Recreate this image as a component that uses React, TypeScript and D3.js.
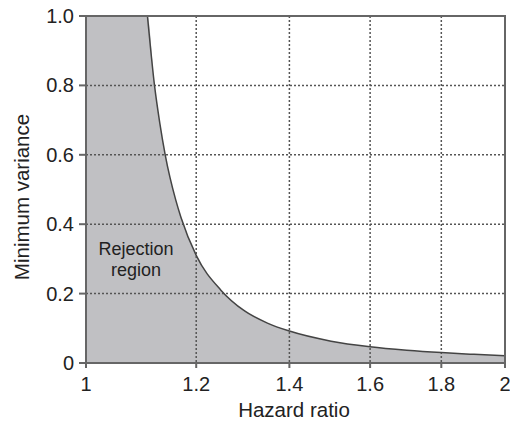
import * as d3 from 'd3';

// curve: hazard ratio vs minimum variance
const hazardRatio = [1.107, 1.12, 1.13, 1.14, 1.16, 1.17, 1.2, 1.25, 1.3, 1.35, 1.4, 1.5, 1.6, 1.7, 1.8, 1.9, 2.0];
const minVariance = [1.0, 0.8, 0.69, 0.6, 0.47, 0.42, 0.31, 0.21, 0.15, 0.115, 0.092, 0.063, 0.047, 0.037, 0.03, 0.025, 0.021];

const xTicks = [1, 1.2, 1.4, 1.6, 1.8, 2];
const yTicks = [0, 0.2, 0.4, 0.6, 0.8, 1.0];
const xTickLabels = ['1', '1.2', '1.4', '1.6', '1.8', '2'];
const yTickLabels = ['0', '0.2', '0.4', '0.6', '0.8', '1.0'];

const width = 510;
const height = 421;
const left = 86;
const right = 505;
const top = 16;
const bottom = 363;
const font = 'Liberation Sans, Arial, sans-serif';
const axisColor = '#666';

export default function App() {
  const x = d3.scaleLog().domain([1, 2]).range([left, right]);
  const y = d3.scaleLinear().domain([0, 1]).range([bottom, top]);

  const points: [number, number][] = hazardRatio.map((h, i) => [h, minVariance[i]]);

  const line = d3
    .line<[number, number]>()
    .x((d) => x(d[0]))
    .y((d) => y(d[1]))
    .curve(d3.curveMonotoneX);

  const areaPoints: [number, number][] = [[1, 1], ...points];
  const area = d3
    .area<[number, number]>()
    .x((d) => x(d[0]))
    .y0(y(0))
    .y1((d) => y(d[1]))
    .curve(d3.curveMonotoneX);

  return (
    <svg
      width={width}
      height={height}
      style={{ position: 'absolute', left: 0, top: 0, background: '#fff' }}
    >
      <path d={area(areaPoints) ?? ''} fill="#c0c0c3" />

      {/* grid */}
      {xTicks.slice(1, -1).map((t) => (
        <line
          key={'gx' + t}
          x1={x(t)}
          x2={x(t)}
          y1={top}
          y2={bottom}
          stroke="#555"
          strokeWidth={1.5}
          strokeDasharray="2,2"
        />
      ))}
      {yTicks.slice(1, -1).map((t) => (
        <line
          key={'gy' + t}
          x1={left}
          x2={right}
          y1={y(t)}
          y2={y(t)}
          stroke="#555"
          strokeWidth={1.5}
          strokeDasharray="2,2"
        />
      ))}

      <path d={line(points) ?? ''} fill="none" stroke="#444" strokeWidth={1.5} />

      {/* frame */}
      <rect
        x={left}
        y={top}
        width={right - left}
        height={bottom - top}
        fill="none"
        stroke={axisColor}
        strokeWidth={2}
      />

      {/* ticks */}
      {yTicks.map((t, i) => (
        <g key={'yt' + t}>
          <line x1={left - 7} x2={left} y1={y(t)} y2={y(t)} stroke={axisColor} strokeWidth={2} />
          <text
            x={left - 12}
            y={y(t)}
            textAnchor="end"
            dominantBaseline="central"
            fontFamily={font}
            fontSize={20}
            fill="#222"
          >
            {yTickLabels[i]}
          </text>
        </g>
      ))}
      {xTicks.map((t, i) => (
        <g key={'xt' + t}>
          <line x1={x(t)} x2={x(t)} y1={bottom} y2={bottom + 5} stroke={axisColor} strokeWidth={2} />
          <text
            x={x(t)}
            y={391}
            textAnchor="middle"
            fontFamily={font}
            fontSize={20}
            fill="#222"
          >
            {xTickLabels[i]}
          </text>
        </g>
      ))}

      <text
        x={294}
        y={417}
        textAnchor="middle"
        fontFamily={font}
        fontSize={20.5}
        fill="#222"
      >
        Hazard ratio
      </text>
      <text
        transform={`translate(21, 197) rotate(-90)`}
        textAnchor="middle"
        dominantBaseline="central"
        fontFamily={font}
        fontSize={20.5}
        fill="#222"
      >
        Minimum variance
      </text>

      <text x={136} y={255} textAnchor="middle" fontFamily={font} fontSize={18} fill="#222">
        Rejection
      </text>
      <text x={136} y={276} textAnchor="middle" fontFamily={font} fontSize={18} fill="#222">
        region
      </text>
    </svg>
  );
}
